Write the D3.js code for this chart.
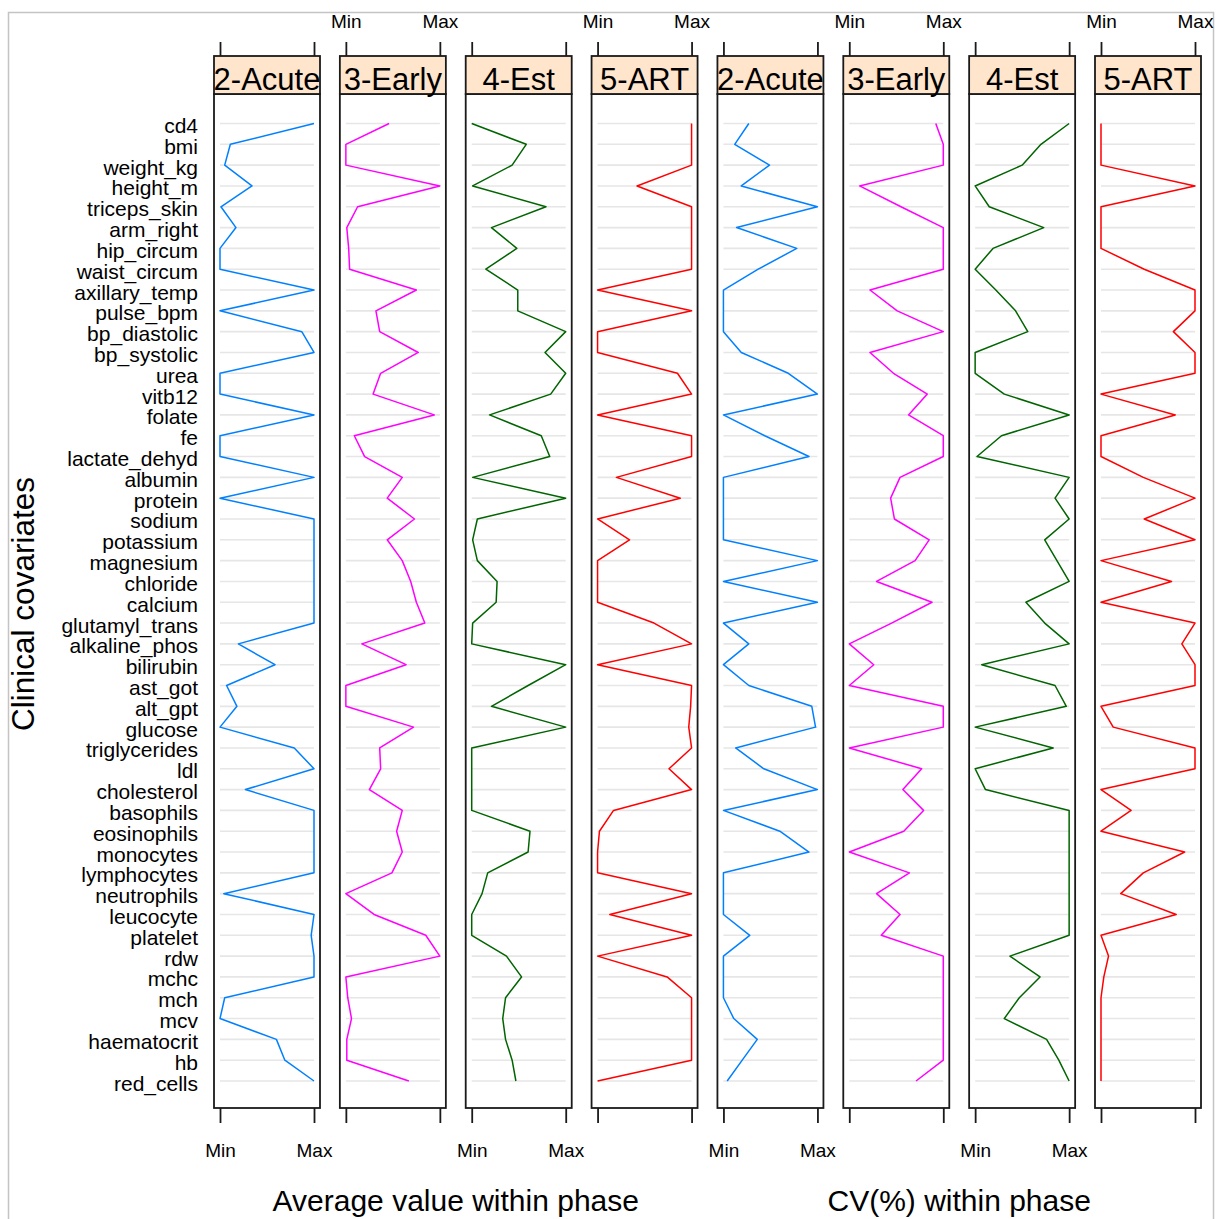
<!DOCTYPE html>
<html>
<head>
<meta charset="utf-8">
<script src="https://cdn.jsdelivr.net/npm/d3@7"></script>
<style>
  html, body { margin: 0; padding: 0; background: #fff; }
  svg { display: block; }
  text { font-family: "Liberation Sans", Arial, sans-serif; fill: #000; }
</style>
</head>
<body>
<svg id="chart" width="1216" height="1219"></svg>
<script>
// ---------------- DATA ----------------
const categories = ["cd4","bmi","weight_kg","height_m","triceps_skin","arm_right","hip_circum","waist_circum",
  "axillary_temp","pulse_bpm","bp_diastolic","bp_systolic","urea","vitb12","folate","fe","lactate_dehyd",
  "albumin","protein","sodium","potassium","magnesium","chloride","calcium","glutamyl_trans","alkaline_phos",
  "bilirubin","ast_got","alt_gpt","glucose","triglycerides","ldl","cholesterol","basophils","eosinophils",
  "monocytes","lymphocytes","neutrophils","leucocyte","platelet","rdw","mchc","mch","mcv","haematocrit","hb","red_cells"];

const phases = ["2-Acute","3-Early","4-Est","5-ART"];
const tickLabels = ["Min","Max"];
const xTitles = ["Average value within phase","CV(%) within phase"];
const yTitle = "Clinical covariates";

// Average value within phase (scaled Min..Max)
const avgAcute = [1.0,0.11,0.05,0.34,0.01,0.17,0.0,0.0,1.0,0.0,0.87,1.0,0.0,0.0,1.0,0.0,0.0,1.0,0.0,1.0,1.0,1.0,1.0,1.0,
  1.0,0.195,0.585,0.07,0.18,0.0,0.79,1.0,0.27,1.0,1.0,1.0,1.0,0.04,1.0,0.97,1.0,1.0,0.05,0.0,0.6,0.69,1.0];
const avgEarly = [0.46,0.0,0.0,1.0,0.125,0.01,0.03,0.04,0.75,0.32,0.36,0.77,0.37,0.29,0.94,0.09,0.2,0.6,0.44,0.73,0.44,0.6,0.69,0.75,
  0.84,0.17,0.64,0.0,0.0,0.72,0.36,0.37,0.25,0.6,0.54,0.6,0.49,0.0,0.3,0.85,1.0,0.0,0.02,0.06,0.01,0.01,0.67];
const avgEst = [0.0,0.58,0.43,0.01,0.79,0.21,0.48,0.15,0.49,0.49,1.0,0.78,1.0,0.84,0.19,0.74,0.83,0.01,1.0,0.06,0.01,0.06,0.27,0.26,
  0.01,0.0,1.0,0.6,0.21,1.0,0.0,0.0,0.0,0.0,0.62,0.6,0.17,0.11,0.0,0.0,0.37,0.53,0.36,0.33,0.36,0.43,0.47];
const avgArt = [1.0,1.0,1.0,0.42,1.0,1.0,1.0,1.0,0.0,1.0,0.0,0.0,0.85,1.0,0.0,1.0,1.0,0.2,0.88,0.0,0.34,0.0,0.0,0.0,
  0.6,1.0,0.0,1.0,0.99,0.97,1.0,0.76,1.0,0.17,0.02,0.0,0.0,1.0,0.13,1.0,0.0,0.74,1.0,1.0,1.0,1.0,0.0];

// CV(%) within phase (scaled Min..Max)
const cvAcute = [0.27,0.12,0.49,0.19,1.0,0.14,0.78,0.37,0.0,0.0,0.0,0.19,0.69,1.0,0.0,0.44,0.91,0.0,0.0,0.0,0.0,1.0,0.0,1.0,
  0.0,0.27,0.0,0.27,0.94,0.98,0.13,0.43,1.0,0.0,0.6,0.91,0.0,0.0,0.0,0.28,0.0,0.0,0.0,0.11,0.36,0.2,0.04];
const cvEarly = [0.92,1.0,1.0,0.11,0.55,1.0,1.0,1.0,0.22,0.51,1.0,0.22,0.47,0.83,0.63,1.0,1.0,0.54,0.44,0.48,0.85,0.7,0.29,0.88,
  0.45,0.0,0.26,0.0,1.0,1.0,0.0,0.77,0.57,0.79,0.58,0.0,0.64,0.29,0.54,0.34,1.0,1.0,1.0,1.0,1.0,1.0,0.71];
const cvEst = [1.0,0.7,0.5,0.0,0.15,0.73,0.19,0.0,0.22,0.43,0.56,0.0,0.0,0.31,1.0,0.28,0.02,1.0,0.85,1.0,0.74,0.87,1.0,0.54,
  0.74,1.0,0.07,0.85,0.97,0.0,0.83,0.0,0.11,1.0,1.0,1.0,1.0,1.0,1.0,1.0,0.37,0.69,0.47,0.31,0.76,0.89,1.0];
const cvArt = [0.0,0.0,0.0,1.0,0.0,0.0,0.0,0.46,1.0,1.0,0.77,1.0,1.0,0.0,0.79,0.0,0.0,0.45,1.0,0.46,1.0,0.0,0.75,0.0,
  1.0,0.86,1.0,1.0,0.0,0.13,1.0,1.0,0.0,0.32,0.0,0.89,0.45,0.21,0.8,0.0,0.08,0.03,0.0,0.0,0.0,0.0,0.0];

const seriesList = [avgAcute, avgEarly, avgEst, avgArt, cvAcute, cvEarly, cvEst, cvArt];
const colors = ["#0080ff","#ff00ff","#006400","#ff0000"];

// ---------------- LAYOUT ----------------
const svg = d3.select("#chart");
const panelTop = 94, panelBottom = 1108, stripTop = 56;
const panelW = 106, firstLeft = 214, lastLeft = 1095;
const step = (lastLeft - firstLeft) / 7;
const font = '"Liberation Sans", Arial, sans-serif';

svg.append("rect").attr("width",1216).attr("height",1219).attr("fill","#fff");
svg.append("rect").attr("x",8.5).attr("y",12.5).attr("width",1205).attr("height",1230)
  .attr("fill","none").attr("stroke","#c4c4c4").attr("stroke-width",1.5);

const y = d3.scalePoint().domain(categories).range([123.5, 1081]);

// y labels
svg.append("g").selectAll("text").data(categories).join("text")
  .attr("x",198).attr("y",d => y(d) + 9.5)
  .attr("text-anchor","end").attr("font-size","21px").text(d => d);

seriesList.forEach((vals, i) => {
  const left = firstLeft + i * step;
  const x = d3.scaleLinear().domain([0,1]).range([left + 6, left + panelW - 6]);
  const g = svg.append("g");
  const color = colors[i % 4];

  // grid lines
  g.selectAll("line.grid").data(categories).join("line")
    .attr("class","grid")
    .attr("x1", x(0)).attr("x2", x(1))
    .attr("y1", d => y(d)).attr("y2", d => y(d))
    .attr("stroke","#e6e6e6").attr("stroke-width",1.6);

  // data line
  const pts = categories.map((c, k) => ({c, v: vals[k]}));
  g.append("path").datum(pts)
    .attr("d", d3.line().x(d => x(d.v)).y(d => y(d.c)))
    .attr("fill","none").attr("stroke",color).attr("stroke-width",1.5)
    .attr("stroke-linejoin","round");

  // panel border
  g.append("rect").attr("x",left).attr("y",panelTop).attr("width",panelW).attr("height",panelBottom-panelTop)
    .attr("fill","none").attr("stroke","#1a1a1a").attr("stroke-width",1.8);

  // strip
  g.append("rect").attr("x",left).attr("y",stripTop).attr("width",panelW).attr("height",panelTop-stripTop)
    .attr("fill","#ffe5cc").attr("stroke","#1a1a1a").attr("stroke-width",1.8);
  g.append("text").attr("x", left + panelW/2).attr("y", 89.5)
    .attr("text-anchor","middle").attr("font-size","31px").text(phases[i % 4]);

  // bottom axis
  const bAxis = g.append("g").attr("transform",`translate(0,${panelBottom})`)
    .call(d3.axisBottom(x).tickValues([0,1]).tickSize(15).tickFormat((d,k) => tickLabels[k]));
  bAxis.select(".domain").remove();
  bAxis.selectAll("line").attr("stroke","#1a1a1a").attr("stroke-width",1.8);
  bAxis.selectAll("text").attr("y",49).attr("dy",0).attr("font-size","19px").attr("font-family",font).attr("fill","#000");
  if (i % 2 === 1) bAxis.selectAll("text").remove();

  // top axis
  const tAxis = g.append("g").attr("transform",`translate(0,${stripTop})`)
    .call(d3.axisTop(x).tickValues([0,1]).tickSize(14).tickFormat((d,k) => tickLabels[k]));
  tAxis.select(".domain").remove();
  tAxis.selectAll("line").attr("stroke","#1a1a1a").attr("stroke-width",1.8);
  tAxis.selectAll("text").attr("y",-28).attr("dy",0).attr("font-size","19px").attr("font-family",font).attr("fill","#000");
  if (i % 2 === 0) tAxis.selectAll("text").remove();
});

// axis titles
const groupCenter = k => (firstLeft + 4*k*step + firstLeft + (4*k+3)*step + panelW) / 2;
svg.append("g").selectAll("text").data(xTitles).join("text")
  .attr("x",(d,k) => groupCenter(k)).attr("y",1211)
  .attr("text-anchor","middle").attr("font-size","30px").text(d => d);

svg.append("text").attr("transform","translate(34,604) rotate(-90)")
  .attr("text-anchor","middle").attr("font-size","31.5px").text(yTitle);
</script>
</body>
</html>
